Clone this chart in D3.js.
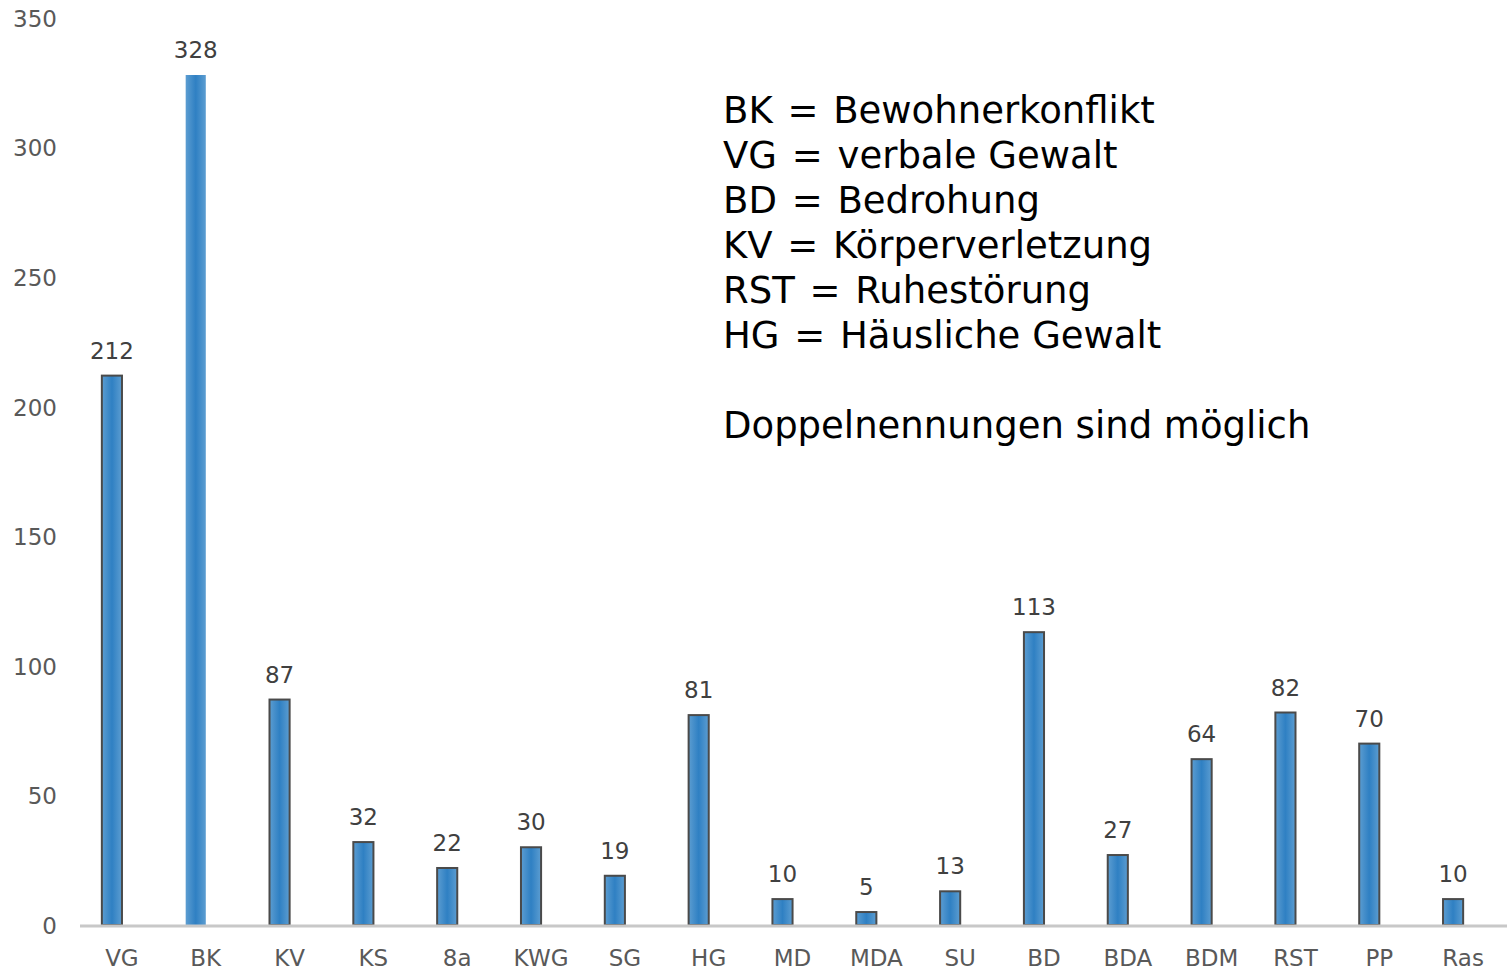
<!DOCTYPE html>
<html lang="en">
<head>
<meta charset="utf-8">
<title>Einsätze</title>
<script src="https://d3js.org/d3.v7.min.js"></script>
<style>
  body { margin: 0; background: #ffffff; font-family: "DejaVu Sans", Verdana, sans-serif; }
</style>
</head>
<body>
<script>
// categories and counts
var categories = ["VG", "BK", "KV", "KS", "8a", "KWG", "SG", "HG", "MD", "MDA", "SU", "BD", "BDA", "BDM", "RST", "PP", "Ras"];
var counts = [212, 328, 87, 32, 22, 30, 19, 81, 10, 5, 13, 113, 27, 64, 82, 70, 10];
var yTicks = [0, 50, 100, 150, 200, 250, 300, 350];
var legendAbbr = ["BK", "VG", "BD", "KV", "RST", "HG"];
var legendText = ["Bewohnerkonflikt", "verbale Gewalt", "Bedrohung", "Körperverletzung", "Ruhestörung", "Häusliche Gewalt"];
var footnote = "Doppelnennungen sind möglich";

var w = 1507, h = 970;

var svg = d3.select("body").append("svg")
  .attr("width", w)
  .attr("height", h);

var x = d3.scaleBand()
  .domain(categories)
  .range([70, 1495])
  .paddingInner(0.76)
  .paddingOuter(0.38);

var y = d3.scaleLinear()
  .domain([0, 350])
  .range([925, 18]);

// gradient for bars
var grad = svg.append("defs").append("linearGradient")
  .attr("id", "barGrad")
  .attr("x1", "0%").attr("x2", "100%")
  .attr("y1", "0%").attr("y2", "0%");
grad.append("stop").attr("offset", "0%").attr("stop-color", "#5c9dd1");
grad.append("stop").attr("offset", "50%").attr("stop-color", "#2f80c3");
grad.append("stop").attr("offset", "100%").attr("stop-color", "#5c9dd1");

// y axis labels (no line)
var yAxis = svg.append("g")
  .attr("transform", "translate(57,1)")
  .call(d3.axisLeft(y).tickValues(yTicks).tickSize(0).tickPadding(0));
yAxis.select(".domain").remove();
yAxis.selectAll("text")
  .attr("font-family", "DejaVu Sans")
  .attr("font-size", "23px")
  .attr("fill", "#595959");

// bars
var data = categories.map(function(c, i) { return { cat: c, value: counts[i] }; });

svg.selectAll("rect.bar")
  .data(data)
  .enter().append("rect")
  .attr("class", "bar")
  .attr("x", function(d) { return x(d.cat); })
  .attr("width", x.bandwidth())
  .attr("y", function(d) { return y(d.value); })
  .attr("height", function(d) { return y(0) - y(d.value); })
  .attr("fill", "url(#barGrad)")
  .attr("stroke", function(d) { return d.cat === "BK" ? "none" : "#4a4a4a"; })
  .attr("stroke-width", 2);

// value labels
svg.selectAll("text.val")
  .data(data)
  .enter().append("text")
  .attr("class", "val")
  .attr("x", function(d) { return x(d.cat) + x.bandwidth() / 2; })
  .attr("y", function(d) { return y(d.value) - 17; })
  .attr("text-anchor", "middle")
  .attr("font-size", "23px")
  .attr("fill", "#404040")
  .text(function(d) { return d.value; });

// baseline
svg.append("line")
  .attr("x1", 80).attr("x2", w)
  .attr("y1", y(0) + 1).attr("y2", y(0) + 1)
  .attr("stroke", "#c8c8c8")
  .attr("stroke-width", 3);

// x axis labels
var xAxis = svg.append("g")
  .attr("transform", "translate(10," + (y(0) + 17) + ")")
  .call(d3.axisBottom(x).tickSize(0).tickPadding(8));
xAxis.select(".domain").remove();
xAxis.selectAll("text")
  .attr("font-family", "DejaVu Sans")
  .attr("font-size", "23px")
  .attr("fill", "#595959");

// legend text
var leg = svg.append("g").selectAll("text")
  .data(legendAbbr)
  .enter().append("text")
  .attr("x", 723)
  .attr("y", function(d, i) { return 123 + i * 45; })
  .attr("font-size", "37px")
  .attr("fill", "#000000");
leg.append("tspan").text(function(d) { return d; });
leg.append("tspan").attr("word-spacing", "3px").text(" = ");
leg.append("tspan").text(function(d, i) { return legendText[i]; });

svg.append("text")
  .attr("x", 723)
  .attr("y", 123 + 7 * 45)
  .attr("font-size", "37px")
  .attr("fill", "#000000")
  .text(footnote);
</script>
</body>
</html>
